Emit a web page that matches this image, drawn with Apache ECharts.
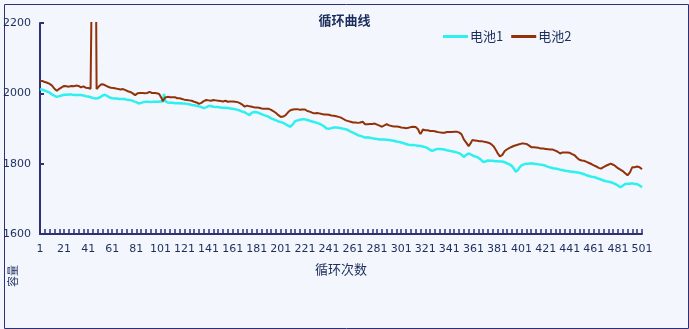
<!DOCTYPE html>
<html>
<head>
<meta charset="utf-8">
<script src="https://cdn.jsdelivr.net/npm/echarts@6/dist/echarts.min.js"></script>
<style>
html,body{margin:0;padding:0;background:#F3F6FC;}
#chart{width:689px;height:329px;}
</style>
</head>
<body>
<div id="chart"></div>
<script>
const titleText = '循环曲线';
const xAxisName = '循环次数';
const yAxisName = '容量';
const seriesNames = ['电池1', '电池2'];
const cycleCount = 501;
const categories = Array.from({length: cycleCount}, (_, i) => String(i + 1));
const yTicks = [1600, 1800, 2000, 2200];

const battery1 = [
2012,2011,2010,2009,2008,2006,2005,2004,2002,2000,
1997,1995,1993,1991,1990,1991,1992,1993,1994,1995,
1996,1997,1996,1998,1997,1996,1997,1996,1995,1996,
1995,1996,1995,1994,1995,1994,1994,1993,1992,1992,
1991,1990,1989,1988,1987,1986,1985,1985,1986,1987,
1989,1990,1994,1997,1996,1994,1992,1989,1988,1987,
1986,1986,1985,1986,1985,1985,1984,1985,1984,1983,
1984,1983,1982,1982,1981,1980,1980,1979,1977,1976,
1975,1973,1971,1972,1973,1974,1975,1975,1976,1975,
1976,1976,1975,1976,1976,1977,1976,1975,1976,1976,
1977,1976,1977,1998,1978,1975,1974,1973,1973,1972,
1973,1972,1972,1971,1972,1971,1972,1971,1971,
1971,1971,1970,1970,1969,1969,1968,1967,1967,1966,
1965,1965,1964,1963,1962,1961,1959,1958,1957,1960,
1963,1964,1963,1964,1963,1962,1962,1961,1962,1961,
1961,1960,1960,1959,1960,1959,1958,1958,1957,1957,
1956,1956,1955,1955,1954,1953,1952,1951,1950,1948,
1947,1946,1944,1942,1940,1938,1941,1945,1948,1947,
1946,1946,1945,1944,1943,1941,1939,1938,1936,1936,
1934,1933,1931,1929,1928,1926,1924,1923,1921,1920,
1920,1918,1917,1916,1914,1912,1910,1908,1906,1905,
1908,1912,1917,1921,1922,1923,1924,1925,1926,1926,
1925,1926,1925,1924,1923,1922,1921,1920,1919,
1918,1917,1916,1915,1914,1912,1910,1908,1906,1903,
1900,1898,1899,1900,1901,1902,1903,1902,1903,1903,
1902,1901,1901,1900,1899,1898,1898,1897,1895,1893,
1891,1890,1888,1887,1885,1883,1881,1880,1879,1878,
1877,1875,1874,1874,1875,1875,1874,1873,1872,1872,
1871,1871,1870,1870,1869,1869,1869,1868,1869,1868,
1868,1867,1867,1866,1866,1865,1865,1864,1863,1862,
1862,1861,1860,1859,1858,1857,1856,1855,1854,1854,
1853,1853,1853,1852,1852,1851,1851,1850,1850,1850,
1849,1848,1847,1846,1844,1842,1839,1835,1836,1838,
1840,1841,1842,1843,1842,1842,1841,1840,1840,
1839,1838,1837,1837,1836,1835,1835,1834,1833,1832,
1831,1830,1829,1826,1823,1819,1822,1825,1827,1829,
1828,1826,1824,1822,1821,1820,1819,1817,1815,1812,
1808,1805,1802,1806,1809,1809,1808,1808,1809,1808,
1808,1807,1808,1807,1807,1806,1807,1806,1805,1804,
1803,1801,1800,1798,1796,1793,1790,1784,1777,1776,
1782,1788,1792,1795,1797,1798,1799,1800,1799,1800,
1800,1801,1800,1800,1800,1799,1799,1798,1797,1797,
1796,1796,1795,1794,1793,1791,1790,1789,1788,
1787,1787,1786,1786,1785,1784,1783,1783,1782,1781,
1780,1780,1779,1778,1778,1777,1777,1776,1776,1775,
1775,1774,1774,1773,1772,1771,1770,1768,1767,1766,
1765,1764,1763,1763,1762,1761,1760,1758,1757,1756,
1755,1753,1752,1751,1750,1749,1749,1748,1747,1746,
1745,1744,1742,1740,1738,1736,1733,1735,1737,1740,
1742,1742,1743,1744,1743,1744,1744,1743,1742,1743,
1742,1741,1738,1736,1733
];

const battery2 = [
2035,2034,2035,2033,2032,2031,2030,2029,2027,2025,
2022,2018,2013,2009,2007,2010,2013,2014,2017,2019,
2021,2018,2020,2022,2019,2019,2021,2022,2020,2024,
2022,2020,2021,2019,2017,2019,2020,2018,2016,2017,
2015,2014,2013,2012,2600,2600,2600,2012,2015,2020,
2024,2026,2027,2025,2022,2021,2020,2018,2019,2016,
2014,2015,2013,2014,2013,2012,2013,2011,2011,2012,
2010,2009,2008,2006,2005,2004,2002,2000,1997,1995,
1998,2000,2002,2001,2003,2001,2000,2000,2002,2001,
2003,2004,2002,2001,2003,2001,2000,2000,1999,1998,
1993,1986,1978,1980,1988,1989,1990,1990,1989,1991,
1989,1988,1989,1986,1986,1985,1986,1984,1984,
1983,1982,1983,1981,1980,1980,1981,1979,1977,1976,
1975,1974,1972,1970,1969,1973,1976,1978,1980,1981,
1982,1980,1981,1979,1980,1981,1979,1980,1978,1979,
1980,1978,1979,1977,1978,1979,1977,1976,1978,1977,
1976,1977,1975,1976,1974,1975,1974,1972,1970,1968,
1965,1962,1963,1965,1964,1963,1962,1962,1961,1960,
1959,1960,1958,1959,1958,1957,1958,1956,1957,1956,
1955,1956,1954,1953,1952,1949,1947,1944,1941,1938,
1935,1933,1933,1934,1936,1938,1942,1946,1949,1952,
1953,1954,1956,1955,1954,1955,1954,1953,1955,1954,
1953,1954,1952,1950,1949,1948,1946,1945,1944,
1943,1943,1944,1942,1943,1942,1941,1942,1940,1941,
1940,1940,1939,1938,1937,1937,1936,1937,1935,1935,
1933,1932,1931,1929,1927,1924,1923,1922,1921,1920,
1919,1918,1917,1916,1917,1915,1916,1915,1917,1918,
1919,1915,1912,1911,1912,1913,1913,1914,1913,1915,
1914,1913,1911,1910,1908,1906,1905,1907,1909,1911,
1912,1910,1909,1908,1907,1906,1906,1905,1906,1904,
1905,1904,1903,1903,1902,1902,1901,1903,1902,1903,
1904,1903,1905,1905,1904,1902,1898,1890,1884,1890,
1897,1896,1895,1896,1895,1894,1893,1894,1893,1892,
1892,1891,1890,1891,1889,1890,1888,1889,1888,
1889,1890,1889,1890,1891,1890,1891,1891,1890,1891,
1890,1889,1888,1884,1877,1869,1864,1860,1855,1850,
1852,1860,1867,1867,1866,1866,1865,1866,1864,1865,
1864,1863,1862,1862,1861,1860,1859,1857,1855,1852,
1848,1843,1837,1830,1825,1821,1822,1825,1830,1836,
1839,1841,1843,1845,1847,1848,1850,1851,1852,1853,
1854,1855,1856,1857,1858,1857,1858,1856,1854,1852,
1849,1847,1848,1847,1846,1846,1845,1845,1844,1843,
1842,1843,1841,1842,1840,1841,1839,1840,1841,
1840,1838,1837,1836,1834,1832,1829,1830,1832,1833,
1832,1831,1832,1830,1831,1829,1827,1826,1824,1821,
1817,1814,1811,1808,1809,1810,1808,1806,1805,1803,
1802,1800,1799,1797,1795,1793,1792,1790,1788,1787,
1786,1788,1790,1792,1794,1796,1797,1798,1800,1799,
1797,1795,1793,1790,1787,1785,1783,1782,1779,1776,
1773,1770,1767,1770,1775,1783,1790,1791,1790,1791,
1792,1791,1790,1788,1784
];

const navy = '#2E3076';
const textColor = '#1C2E5C';
const colors = ['#2EF0F0', '#923208'];

const chart = echarts.init(document.getElementById('chart'), null, {renderer: 'canvas'});
chart.setOption({
  animation: false,
  backgroundColor: '#F3F6FC',
  color: colors,
  textStyle: {fontFamily: '"Noto Sans CJK SC", "DejaVu Sans", sans-serif', color: textColor},
  title: {
    text: titleText,
    left: 'center',
    top: 9,
    textStyle: {fontSize: 13, fontWeight: 'bold', color: textColor}
  },
  legend: {
    left: 438,
    top: 25,
    icon: 'rect',
    itemWidth: 25,
    itemHeight: 3,
    itemGap: 8,
    textStyle: {fontSize: 13, color: textColor, padding: [0, 0, 0, -3]},
    data: seriesNames
  },
  grid: {left: 40, right: 47, top: 23, bottom: 95, containLabel: false},
  xAxis: {
    type: 'category',
    data: categories,
    boundaryGap: false,
    name: xAxisName,
    nameLocation: 'middle',
    nameGap: 29,
    nameTextStyle: {fontSize: 13, color: textColor},
    axisLine: {show: true, lineStyle: {color: navy, width: 2}},
    axisTick: {show: true, inside: true, length: 5, interval: 3, lineStyle: {color: navy, width: 1.5}},
    axisLabel: {interval: 19, fontSize: 11, margin: 10, color: textColor, fontFamily: '"DejaVu Sans", sans-serif'},
    splitLine: {show: false}
  },
  yAxis: {
    type: 'value',
    min: yTicks[0],
    max: yTicks[yTicks.length - 1],
    interval: yTicks[1] - yTicks[0],
    axisLine: {show: true, lineStyle: {color: navy, width: 2}},
    axisTick: {show: true, inside: true, length: 4, lineStyle: {color: navy, width: 2}},
    axisLabel: {fontSize: 11, margin: 9, color: textColor, fontFamily: '"DejaVu Sans", sans-serif',
                formatter: function (v) { return String(v); }},
    splitLine: {show: false}
  },
  graphic: [
    {
      type: 'rect',
      left: 2, top: 2,
      shape: {x: 0, y: 0, width: 684, height: 324},
      style: {fill: 'none', stroke: navy, lineWidth: 1},
      silent: true
    },
    {
      type: 'text',
      x: 13, y: 276,
      rotation: Math.PI / 2,
      style: {text: yAxisName, fontSize: 11, fill: textColor, align: 'center', verticalAlign: 'middle',
              fontFamily: '"Noto Sans CJK SC", sans-serif'}
    }
  ],
  series: [
    {name: seriesNames[0], type: 'line', data: battery1, showSymbol: false, clip: true,
     lineStyle: {width: 2.5, color: colors[0]}, itemStyle: {color: colors[0]}},
    {name: seriesNames[1], type: 'line', data: battery2, showSymbol: false, clip: true,
     lineStyle: {width: 2, color: colors[1]}, itemStyle: {color: colors[1]}}
  ]
});
</script>
</body>
</html>
